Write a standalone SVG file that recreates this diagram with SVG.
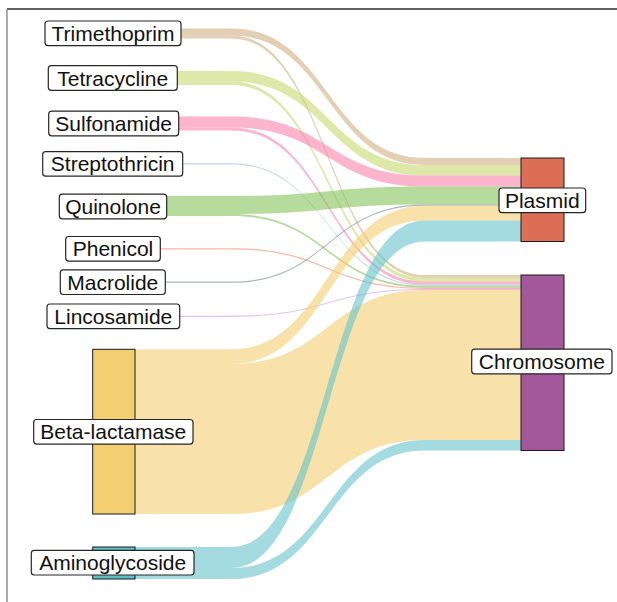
<svg xmlns="http://www.w3.org/2000/svg" width="617" height="602" viewBox="0 0 617 602">
<style>
.flow{fill-opacity:0.6;stroke:none}
.node rect.st{stroke:#1a1a1a;stroke-width:1}
.lbl rect{fill:#fff;stroke:#262626;stroke-width:1.2}
.lbl text{font-family:"Liberation Sans",Arial,sans-serif;font-size:21px;fill:#111;text-anchor:middle}
</style>
<rect x="0" y="0" width="617" height="602" fill="#fff"/>
<line x1="7" y1="9" x2="617" y2="9" stroke="#2e2e2e" stroke-width="1.3"/>
<line x1="7" y1="9" x2="7" y2="602" stroke="#808080" stroke-width="1.3"/>
<g id="connectors">
<path class="flow" fill="#D0AF80" d="M135,28.5 L231.5,28.5 C328,28.5 328,158 424.5,158 L521,158 L521,165 L424.5,165 C328,165 328,35.5 231.5,35.5 L135,35.5 Z"/>
<path class="flow" fill="#D0AF80" d="M135,35.5 L231.5,35.5 C328,35.5 328,275 424.5,275 L521,275 L521,278 L424.5,278 C328,278 328,38.5 231.5,38.5 L135,38.5 Z"/>
<path class="flow" fill="#C6D970" d="M135,71 L231.5,71 C328,71 328,165 424.5,165 L521,165 L521,175.5 L424.5,175.5 C328,175.5 328,81.5 231.5,81.5 L135,81.5 Z"/>
<path class="flow" fill="#C6D970" d="M135,81.5 L231.5,81.5 C328,81.5 328,278 424.5,278 L521,278 L521,281.5 L424.5,281.5 C328,281.5 328,85 231.5,85 L135,85 Z"/>
<path class="flow" fill="#FC82AC" d="M135,116.5 L231.5,116.5 C328,116.5 328,175.5 424.5,175.5 L521,175.5 L521,186.5 L424.5,186.5 C328,186.5 328,127.5 231.5,127.5 L135,127.5 Z"/>
<path class="flow" fill="#FC82AC" d="M135,127.5 L231.5,127.5 C328,127.5 328,281.5 424.5,281.5 L521,281.5 L521,284.5 L424.5,284.5 C328,284.5 328,130.5 231.5,130.5 L135,130.5 Z"/>
<path class="flow" fill="#9BB6EE" d="M135,163.2 L231.5,163.2 C328,163.2 328,284.5 424.5,284.5 L521,284.5 L521,285.7 L424.5,285.7 C328,285.7 328,164.4 231.5,164.4 L135,164.4 Z"/>
<path class="flow" fill="#84C35C" d="M135,196 L231.5,196 C328,196 328,186.5 424.5,186.5 L521,186.5 L521,204.5 L424.5,204.5 C328,204.5 328,214 231.5,214 L135,214 Z"/>
<path class="flow" fill="#84C35C" d="M135,214 L231.5,214 C328,214 328,285.7 424.5,285.7 L521,285.7 L521,287.7 L424.5,287.7 C328,287.7 328,216 231.5,216 L135,216 Z"/>
<path class="flow" fill="#F58461" d="M135,248.2 L231.5,248.2 C328,248.2 328,287.7 424.5,287.7 L521,287.7 L521,288.9 L424.5,288.9 C328,288.9 328,249.4 231.5,249.4 L135,249.4 Z"/>
<path class="flow" fill="#7B8593" d="M135,281.6 L231.5,281.6 C328,281.6 328,204.5 424.5,204.5 L521,204.5 L521,205.7 L424.5,205.7 C328,205.7 328,282.8 231.5,282.8 L135,282.8 Z"/>
<path class="flow" fill="#D593EE" d="M135,315.7 L231.5,315.7 C328,315.7 328,288.9 424.5,288.9 L521,288.9 L521,290.1 L424.5,290.1 C328,290.1 328,316.9 231.5,316.9 L135,316.9 Z"/>
<path class="flow" fill="#F4CF72" d="M135,349.3 L231.5,349.3 C328,349.3 328,205.7 424.5,205.7 L521,205.7 L521,220.4 L424.5,220.4 C328,220.4 328,364 231.5,364 L135,364 Z"/>
<path class="flow" fill="#F4CF72" d="M135,364 L231.5,364 C328,364 328,290.1 424.5,290.1 L521,290.1 L521,440 L424.5,440 C328,440 328,514 231.5,514 L135,514 Z"/>
<path class="flow" fill="#66C3CB" d="M135,547 L231.5,547 C328,547 328,220.4 424.5,220.4 L521,220.4 L521,241.5 L424.5,241.5 C328,241.5 328,568 231.5,568 L135,568 Z"/>
<path class="flow" fill="#66C3CB" d="M135,568 L231.5,568 C328,568 328,440 424.5,440 L521,440 L521,450.5 L424.5,450.5 C328,450.5 328,579 231.5,579 L135,579 Z"/>
</g>
<g id="node-trimethoprim" class="node"><rect class="st" x="92.7" y="28.5" width="42.3" height="10" fill="#D0AF80"/><g class="lbl"><rect x="45" y="21" width="136" height="24.6" rx="3"/><text x="113" y="41">Trimethoprim</text></g></g>
<g id="node-tetracycline" class="node"><rect class="st" x="92.7" y="71" width="42.3" height="14" fill="#C6D970"/><g class="lbl"><rect x="48.3" y="65.7" width="129" height="24.6" rx="3"/><text x="112.8" y="85.6">Tetracycline</text></g></g>
<g id="node-sulfonamide" class="node"><rect class="st" x="92.7" y="116.5" width="42.3" height="14" fill="#FC82AC"/><g class="lbl"><rect x="48.7" y="111.2" width="130" height="24.6" rx="3"/><text x="113.7" y="131.1">Sulfonamide</text></g></g>
<g id="node-streptothricin" class="node"><rect class="st" x="92.7" y="163.2" width="42.3" height="1.2" fill="#9BB6EE"/><g class="lbl"><rect x="42.7" y="151.6" width="140" height="24.6" rx="3"/><text x="112.7" y="171.4">Streptothricin</text></g></g>
<g id="node-quinolone" class="node"><rect class="st" x="92.7" y="196" width="42.3" height="20" fill="#84C35C"/><g class="lbl"><rect x="59.3" y="194.2" width="107.4" height="24.6" rx="3"/><text x="113" y="214.1">Quinolone</text></g></g>
<g id="node-phenicol" class="node"><rect class="st" x="92.7" y="248.2" width="42.3" height="1.2" fill="#F58461"/><g class="lbl"><rect x="65.7" y="236.5" width="94.6" height="24.6" rx="3"/><text x="113" y="256.4">Phenicol</text></g></g>
<g id="node-macrolide" class="node"><rect class="st" x="92.7" y="281.6" width="42.3" height="1.2" fill="#7B8593"/><g class="lbl"><rect x="60.3" y="269.9" width="105" height="24.6" rx="3"/><text x="112.8" y="289.8">Macrolide</text></g></g>
<g id="node-lincosamide" class="node"><rect class="st" x="92.7" y="315.7" width="42.3" height="1.2" fill="#D593EE"/><g class="lbl"><rect x="47" y="304" width="132.7" height="24.6" rx="3"/><text x="113.3" y="323.9">Lincosamide</text></g></g>
<g id="node-beta-lactamase" class="node"><rect class="st" x="92.7" y="349.3" width="42.3" height="164.7" fill="#F4CF72"/><g class="lbl"><rect x="33.7" y="419.5" width="159.3" height="24.6" rx="3"/><text x="113.3" y="439.4">Beta-lactamase</text></g></g>
<g id="node-aminoglycoside" class="node"><rect class="st" x="92.7" y="547" width="42.3" height="32" fill="#5FBFC7"/><g class="lbl"><rect x="31.3" y="550.4" width="162.7" height="24.6" rx="3"/><text x="112.7" y="570.3">Aminoglycoside</text></g></g>
<g id="node-plasmid" class="node"><rect class="st" x="521" y="158" width="43" height="83.5" fill="#DC6E55"/><g class="lbl"><rect x="499" y="188" width="86.7" height="24.6" rx="3"/><text x="542.3" y="207.9">Plasmid</text></g></g>
<g id="node-chromosome" class="node"><rect class="st" x="521" y="275" width="43" height="175.5" fill="#A3589C"/><g class="lbl"><rect x="471.7" y="349.2" width="140.3" height="24.6" rx="3"/><text x="541.8" y="369.1">Chromosome</text></g></g>
</svg>
